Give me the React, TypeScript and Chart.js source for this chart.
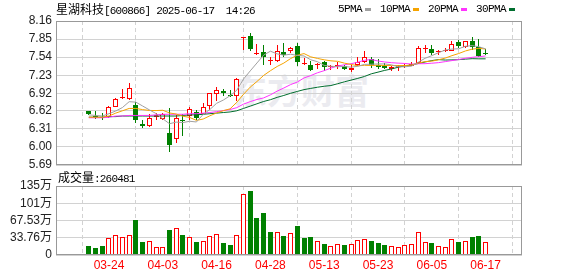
import React, { useEffect, useRef } from 'react';
import { Chart, registerables } from 'chart.js';

Chart.register(...registerables);

// ---------- data ----------
const stockName = '星湖科技';
const stockCode = '600866';
const quoteDate = '2025-06-17';
const quoteTime = '14:26';
const volumeTitle = '成交量';
const lastVolume = '260481';

const dates = [
  '03-19', '03-20', '03-21', '03-24', '03-25', '03-26', '03-27', '03-28', '03-31', '04-01',
  '04-02', '04-03', '04-07', '04-08', '04-09', '04-10', '04-11', '04-14', '04-15', '04-16',
  '04-17', '04-18', '04-21', '04-22', '04-23', '04-24', '04-25', '04-28', '04-29', '04-30',
  '05-06', '05-07', '05-08', '05-09', '05-12', '05-13', '05-14', '05-15', '05-16', '05-19',
  '05-20', '05-21', '05-22', '05-23', '05-26', '05-27', '05-28', '05-29', '05-30', '06-03',
  '06-04', '06-05', '06-06', '06-09', '06-10', '06-11', '06-12', '06-13', '06-16', '06-17',
];

const opens = [
  6.61, 6.53, 6.51, 6.52, 6.69, 6.84, 6.83, 6.72, 6.40, 6.36,
  6.51, 6.48, 6.24, 6.13, 6.47, 6.53, 6.60, 6.57, 6.71, 6.91,
  6.96, 6.89, 6.87, 7.87, 7.90, 7.59, 7.62, 7.47, 7.47, 7.62,
  7.65, 7.73, 7.42, 7.41, 7.40, 7.45, 7.37, 7.38, 7.39, 7.32,
  7.41, 7.45, 7.51, 7.41, 7.39, 7.33, 7.37, 7.38, 7.39, 7.44,
  7.68, 7.68, 7.63, 7.64, 7.65, 7.80, 7.71, 7.82, 7.71, 7.61,
];
const highs = [
  6.62, 6.62, 6.58, 6.70, 6.84, 6.99, 7.10, 6.77, 6.47, 6.57,
  6.58, 6.59, 6.66, 6.54, 6.57, 6.69, 6.63, 6.75, 6.92, 7.03,
  7.00, 6.97, 7.18, 7.88, 7.95, 7.76, 7.75, 7.55, 7.75, 7.78,
  7.72, 7.79, 7.52, 7.48, 7.44, 7.47, 7.41, 7.45, 7.41, 7.41,
  7.54, 7.65, 7.55, 7.50, 7.44, 7.39, 7.40, 7.43, 7.45, 7.73,
  7.75, 7.75, 7.67, 7.69, 7.82, 7.84, 7.82, 7.89, 7.85, 7.68,
];
const lows = [
  6.55, 6.48, 6.46, 6.50, 6.68, 6.83, 6.81, 6.41, 6.33, 6.35,
  6.47, 6.46, 5.91, 6.07, 6.19, 6.47, 6.47, 6.56, 6.64, 6.78,
  6.88, 6.86, 6.79, 7.67, 7.64, 7.58, 7.40, 7.41, 7.45, 7.55,
  7.61, 7.39, 7.41, 7.31, 7.34, 7.31, 7.32, 7.33, 7.32, 7.28,
  7.38, 7.44, 7.35, 7.34, 7.33, 7.31, 7.31, 7.36, 7.38, 7.43,
  7.61, 7.58, 7.58, 7.62, 7.64, 7.69, 7.69, 7.67, 7.55, 7.57,
];
const closes = [
  6.56, 6.51, 6.50, 6.69, 6.82, 6.86, 7.01, 6.46, 6.36, 6.49,
  6.54, 6.56, 6.04, 6.50, 6.45, 6.65, 6.50, 6.69, 6.92, 6.98,
  6.93, 6.87, 7.16, 7.88, 7.68, 7.61, 7.55, 7.49, 7.65, 7.57,
  7.69, 7.45, 7.44, 7.32, 7.41, 7.37, 7.38, 7.40, 7.34, 7.35,
  7.45, 7.54, 7.41, 7.37, 7.35, 7.37, 7.38, 7.40, 7.43, 7.69,
  7.70, 7.61, 7.65, 7.66, 7.77, 7.73, 7.82, 7.71, 7.56, 7.59,
];
// volume in 万 shares
const volumes = [
  16.9, 13.0, 18.2, 33.8, 39.0, 35.7, 39.0, 68.8, 24.7, 27.3,
  16.2, 16.2, 49.3, 52.6, 39.6, 35.0, 26.0, 27.9, 37.0, 40.9,
  24.0, 20.1, 39.0, 118.8, 125.3, 72.7, 82.5, 45.5, 44.8, 37.7,
  42.8, 57.1, 33.7, 35.7, 27.3, 22.1, 18.2, 22.1, 20.1, 22.1,
  29.9, 31.2, 27.9, 24.0, 20.1, 17.5, 16.2, 20.1, 22.1, 44.8,
  25.3, 24.0, 18.2, 16.2, 31.8, 26.0, 27.9, 35.7, 37.7, 26.05,
];

const ma5 = [
  6.55, 6.54, 6.53, 6.57, 6.616, 6.676, 6.776, 6.768, 6.702, 6.636,
  6.572, 6.482, 6.398, 6.426, 6.418, 6.44, 6.428, 6.558, 6.642, 6.748,
  6.804, 6.878, 6.972, 7.164, 7.304, 7.44, 7.576, 7.642, 7.596, 7.574,
  7.59, 7.57, 7.56, 7.494, 7.462, 7.398, 7.384, 7.376, 7.38, 7.368,
  7.384, 7.416, 7.418, 7.424, 7.424, 7.408, 7.376, 7.374, 7.386, 7.454,
  7.52, 7.566, 7.616, 7.662, 7.678, 7.684, 7.726, 7.738, 7.718, 7.682,
];
const ma10 = [
  6.51, 6.51, 6.51, 6.53, 6.58, 6.62, 6.66, 6.66, 6.64, 6.626,
  6.624, 6.629, 6.583, 6.564, 6.527, 6.506, 6.455, 6.478, 6.534, 6.583,
  6.622, 6.653, 6.765, 6.903, 7.026, 7.122, 7.227, 7.307, 7.38, 7.439,
  7.515, 7.573, 7.601, 7.545, 7.518, 7.494, 7.477, 7.468, 7.437, 7.415,
  7.391, 7.40, 7.397, 7.402, 7.396, 7.396, 7.396, 7.396, 7.405, 7.439,
  7.464, 7.471, 7.495, 7.524, 7.566, 7.602, 7.646, 7.677, 7.69, 7.68,
];
const ma20 = [
  6.50, 6.50, 6.50, 6.51, 6.53, 6.53, 6.54, 6.54, 6.54, 6.54,
  6.55, 6.56, 6.56, 6.56, 6.56, 6.57, 6.57, 6.58, 6.59, 6.605,
  6.623, 6.641, 6.674, 6.734, 6.777, 6.814, 6.841, 6.893, 6.957, 7.011,
  7.069, 7.113, 7.183, 7.224, 7.272, 7.308, 7.352, 7.388, 7.409, 7.427,
  7.453, 7.487, 7.499, 7.474, 7.457, 7.445, 7.437, 7.432, 7.421, 7.427,
  7.428, 7.436, 7.446, 7.463, 7.481, 7.499, 7.521, 7.537, 7.548, 7.56,
];
const ma30 = [
  6.51, 6.51, 6.51, 6.52, 6.52, 6.53, 6.53, 6.53, 6.53, 6.53,
  6.53, 6.53, 6.53, 6.53, 6.54, 6.55, 6.55, 6.56, 6.57, 6.58,
  6.59, 6.60, 6.62, 6.66, 6.70, 6.74, 6.78, 6.81, 6.85, 6.883,
  6.92, 6.952, 6.983, 7.004, 7.024, 7.041, 7.053, 7.084, 7.117, 7.146,
  7.176, 7.209, 7.254, 7.283, 7.313, 7.337, 7.367, 7.39, 7.407, 7.431,
  7.457, 7.481, 7.498, 7.49, 7.493, 7.497, 7.506, 7.514, 7.511, 7.511,
];

const maNames = ['5PMA', '10PMA', '20PMA', '30PMA'];
const xTickDates = ['03-24', '04-03', '04-16', '04-28', '05-13', '05-23', '06-05', '06-17'];
const priceTicks = [5.69, 6.0, 6.31, 6.62, 6.92, 7.23, 7.54, 7.85, 8.16];
const volumeTicks = [0, 33.76, 67.53, 101.29, 135.06];
const volumeTickLabels = ['0', '33.76万', '67.53万', '101万', '135万'];

// ---------- style ----------
const RED = '#ff0000';
const GREEN = '#008000';
const GRID = '#d2d2d2';
const FRAME = '#999999';
const MA_COLORS = ['#a0a0a0', '#f5a300', '#ff33ff', '#006e2e'];
const W = 578;
const H = 276;
const X_MIN = -0.55;
const X_MAX = 60.08;
const AXIS_FONT = { family: '"Liberation Sans", "Noto Sans CJK SC", sans-serif', size: 12 };

const framePlugin = {
  id: 'frame',
  afterDraw(chart: any) {
    const { ctx, chartArea } = chart;
    const l = Math.round(chartArea.left) + 0.5;
    const t = Math.round(chartArea.top) + 0.5;
    const r = Math.round(chartArea.right) - 0.5;
    const b = Math.round(chartArea.bottom) - 0.5;
    ctx.save();
    ctx.strokeStyle = FRAME;
    ctx.lineWidth = 1;
    ctx.strokeRect(l, t, r - l, b - t);
    ctx.restore();
  },
};

// snap bar elements (computed by the scales) to whole pixels for crisp candles
const snapPlugin = {
  id: 'snap',
  afterDatasetsUpdate(chart: any) {
    chart.data.datasets.forEach((_: any, di: number) => {
      const meta = chart.getDatasetMeta(di);
      if (meta.type !== 'bar') return;
      meta.data.forEach((el: any) => {
        el.x = Math.floor(el.x) + 0.5;
        el.y = Math.round(el.y);
        el.base = Math.round(el.base);
      });
    });
  },
};

const xScale = (showLabels: boolean) => ({
  type: 'linear',
  min: X_MIN,
  max: X_MAX,
  afterBuildTicks: (s: any) => {
    s.ticks = xTickDates.map((d) => ({ value: dates.indexOf(d) }));
  },
  afterFit: (s: any) => {
    s.height = showLabels ? 21 : 0;
  },
  ticks: {
    display: showLabels,
    autoSkip: false,
    maxRotation: 0,
    minRotation: 0,
    padding: 3,
    color: RED,
    font: AXIS_FONT,
    callback: (v: any) => dates[Math.round(Number(v))] ?? '',
  },
  grid: { color: GRID, lineWidth: 1, drawTicks: false },
  border: { display: false, dash: [4, 3] },
});

const up = (i: number) => closes[i] >= opens[i];
const volUp = (i: number) => (i === 0 ? closes[0] >= opens[0] : closes[i] >= closes[i - 1]);

function PriceChart() {
  const ref = useRef<HTMLCanvasElement | null>(null);
  useEffect(() => {
    if (!ref.current) return;
    const idx = dates.map((_, i) => i);
    const lineDs = [ma5, ma10, ma20, ma30].map((arr, k) => ({
      type: 'line',
      label: maNames[k],
      data: arr.map((v, i) => ({ x: i, y: v })),
      borderColor: MA_COLORS[k],
      borderWidth: 1,
      pointRadius: 0,
      tension: 0,
      fill: false,
      order: 0,
    }));
    const chart = new Chart(ref.current, {
      type: 'bar',
      data: {
        datasets: [
          ...lineDs,
          {
            type: 'bar',
            label: 'body',
            data: idx.map((i) => ({ x: i, y: [opens[i], closes[i]] })),
            backgroundColor: idx.map((i) => (up(i) ? '#ffffff' : GREEN)),
            borderColor: idx.map((i) => (up(i) ? RED : GREEN)),
            borderWidth: 1,
            borderSkipped: false,
            barThickness: 5,
            minBarLength: 1,
            inflateAmount: 0,
            grouped: false,
            order: 1,
          },
          {
            type: 'bar',
            label: 'wick',
            data: idx.map((i) => ({ x: i, y: [lows[i], highs[i]] })),
            backgroundColor: idx.map((i) => (up(i) ? RED : GREEN)),
            borderWidth: 0,
            barThickness: 1,
            inflateAmount: 0,
            grouped: false,
            order: 2,
          },
        ] as any,
      },
      options: {
        responsive: false,
        animation: false,
        devicePixelRatio: 1,
        events: [],
        layout: { padding: { top: 21, right: 56, bottom: H - 165, left: 0 } },
        plugins: { legend: { display: false }, tooltip: { enabled: false }, title: { display: false } },
        scales: {
          x: xScale(false) as any,
          y: {
            type: 'linear',
            min: 5.69,
            max: 8.16,
            afterBuildTicks: (s: any) => {
              s.ticks = priceTicks.map((v) => ({ value: v }));
            },
            afterFit: (s: any) => {
              s.width = 56;
            },
            ticks: {
              autoSkip: false,
              padding: 4,
              color: '#222',
              font: AXIS_FONT,
              callback: (v: any) => Number(v).toFixed(2),
            },
            grid: { color: GRID, lineWidth: 1, drawTicks: false },
            border: { display: false },
          } as any,
        },
      },
      plugins: [snapPlugin, framePlugin],
    });
    return () => chart.destroy();
  }, []);
  return <canvas ref={ref} width={W} height={H} style={{ position: 'absolute', left: 0, top: 0, display: 'block' }} />;
}

function VolumeChart() {
  const ref = useRef<HTMLCanvasElement | null>(null);
  useEffect(() => {
    if (!ref.current) return;
    const idx = dates.map((_, i) => i);
    const chart = new Chart(ref.current, {
      type: 'bar',
      data: {
        datasets: [
          {
            label: volumeTitle,
            data: idx.map((i) => ({ x: i, y: volumes[i] })),
            backgroundColor: idx.map((i) => (volUp(i) ? '#ffffff' : GREEN)),
            borderColor: idx.map((i) => (volUp(i) ? RED : GREEN)),
            borderWidth: 1,
            borderSkipped: false,
            barThickness: 5,
            inflateAmount: 0,
            grouped: false,
          },
        ] as any,
      },
      options: {
        responsive: false,
        animation: false,
        devicePixelRatio: 1,
        events: [],
        layout: { padding: { top: 186, right: 56, bottom: 0, left: 0 } },
        plugins: { legend: { display: false }, tooltip: { enabled: false }, title: { display: false } },
        scales: {
          x: xScale(true) as any,
          y: {
            type: 'linear',
            min: 0,
            max: volumeTicks[volumeTicks.length - 1],
            afterBuildTicks: (s: any) => {
              s.ticks = volumeTicks.map((v) => ({ value: v }));
            },
            afterFit: (s: any) => {
              s.width = 56;
            },
            ticks: {
              autoSkip: false,
              padding: 4,
              color: '#222',
              font: AXIS_FONT,
              callback: (v: any) => {
                const k = volumeTicks.indexOf(Number(v));
                return k >= 0 ? volumeTickLabels[k] : '';
              },
            },
            grid: { color: GRID, lineWidth: 1, drawTicks: false },
            border: { display: false },
          } as any,
        },
      },
      plugins: [snapPlugin, framePlugin],
    });
    return () => chart.destroy();
  }, []);
  return <canvas ref={ref} width={W} height={H} style={{ position: 'absolute', left: 0, top: 0, display: 'block' }} />;
}

const cjk: React.CSSProperties = { fontFamily: '"Noto Sans CJK SC", sans-serif', fontSize: 12 };
const mono: React.CSSProperties = { fontFamily: '"Liberation Mono", monospace', fontSize: 11, letterSpacing: '-0.8px' };

export default function App() {
  return (
    <div style={{ position: 'relative', width: W, height: H, overflow: 'hidden', background: '#fff' }}>
      <style>{'body{margin:0;}'}</style>
      <div
        style={{
          position: 'absolute',
          left: 233,
          top: 70,
          fontFamily: '"Noto Sans CJK SC", sans-serif',
          fontWeight: 700,
          fontSize: 34,
          lineHeight: '40px',
          color: '#ebebf0',
          whiteSpace: 'nowrap',
        }}
      >
        东方财富
      </div>
      <PriceChart />
      <VolumeChart />
      <div style={{ position: 'absolute', left: 56, top: 1, lineHeight: '16px', whiteSpace: 'pre', color: '#000' }}>
        <span style={cjk}>{stockName}</span>
        <span style={mono}>{`[${stockCode}] ${quoteDate}  ${quoteTime}`}</span>
      </div>
      <div style={{ position: 'absolute', left: 338, top: 1, lineHeight: '16px', whiteSpace: 'pre', color: '#000', display: 'flex', alignItems: 'center' }}>
        {maNames.map((n, k) => (
          <span key={n} style={{ display: 'flex', alignItems: 'center', marginRight: 9 }}>
            <span style={{ ...mono, letterSpacing: '-0.6px' }}>{n}</span>
            <span style={{ display: 'inline-block', width: 6, height: 3, background: MA_COLORS[k], marginLeft: 3 }} />
          </span>
        ))}
      </div>
      <div style={{ position: 'absolute', left: 58, top: 169, lineHeight: '16px', whiteSpace: 'pre', color: '#000' }}>
        <span style={cjk}>{volumeTitle}</span>
        <span style={mono}>{`:${lastVolume}`}</span>
      </div>
    </div>
  );
}
